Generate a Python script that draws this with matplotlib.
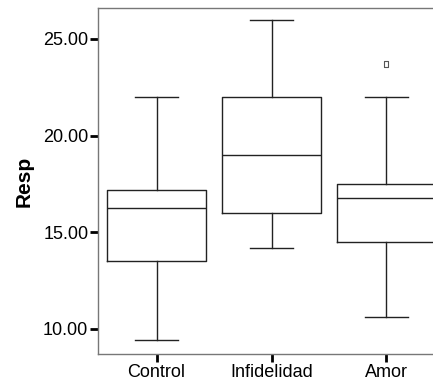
import matplotlib
matplotlib.use("Agg")
import matplotlib.pyplot as plt

plt.rcParams['font.family'] = ['Liberation Sans', 'DejaVu Sans']

# box statistics (SPSS style boxplot)
groups = ["Control", "Infidelidad", "Amor"]
whislo = [9.4, 14.2, 10.6]
q1 = [13.5, 16.0, 14.5]
med = [16.25, 19.0, 16.75]
q3 = [17.2, 22.0, 17.5]
whishi = [22.0, 26.0, 22.0]
outliers = [[], [], [23.7]]

stats = []
for i in range(len(groups)):
    stats.append({"label": groups[i], "whislo": whislo[i], "q1": q1[i], "med": med[i],
                  "q3": q3[i], "whishi": whishi[i], "fliers": outliers[i]})

fig = plt.figure(figsize=(4.33, 3.85), dpi=100)
ax = fig.add_axes([98 / 433, 31 / 385, 347 / 433, 346 / 385])

# tall narrow hollow rectangle, like the SPSS outlier symbol
rect = [(-0.55, -1), (0.55, -1), (0.55, 1), (-0.55, 1), (-0.55, -1)]

line = dict(color="#222222", linewidth=1)
ax.bxp(stats, positions=[1, 2, 3], widths=0.86, showfliers=True,
       boxprops=line, whiskerprops=line, medianprops=line,
       capprops=line, capwidths=0.38,
       flierprops=dict(marker=rect, markersize=5, markerfacecolor="white",
                       markeredgecolor="#555555", markeredgewidth=0.8))

ax.set_xlim(0.49, 3.51)
ax.set_ylim(8.7, 26.6)
ax.set_yticks([10, 15, 20, 25])
ax.set_yticklabels(["10.00", "15.00", "20.00", "25.00"])
ax.set_xticks([1, 2, 3])
ax.set_xticklabels(groups)
ax.tick_params(axis="both", direction="out", length=6, width=2, color="black",
               labelsize=13, pad=1)
ax.set_ylabel("Resp", fontsize=15, fontweight="bold", labelpad=7)
for s in ax.spines.values():
    s.set_color("#777777")
    s.set_linewidth(1)

fig.savefig("out.png", dpi=100)
